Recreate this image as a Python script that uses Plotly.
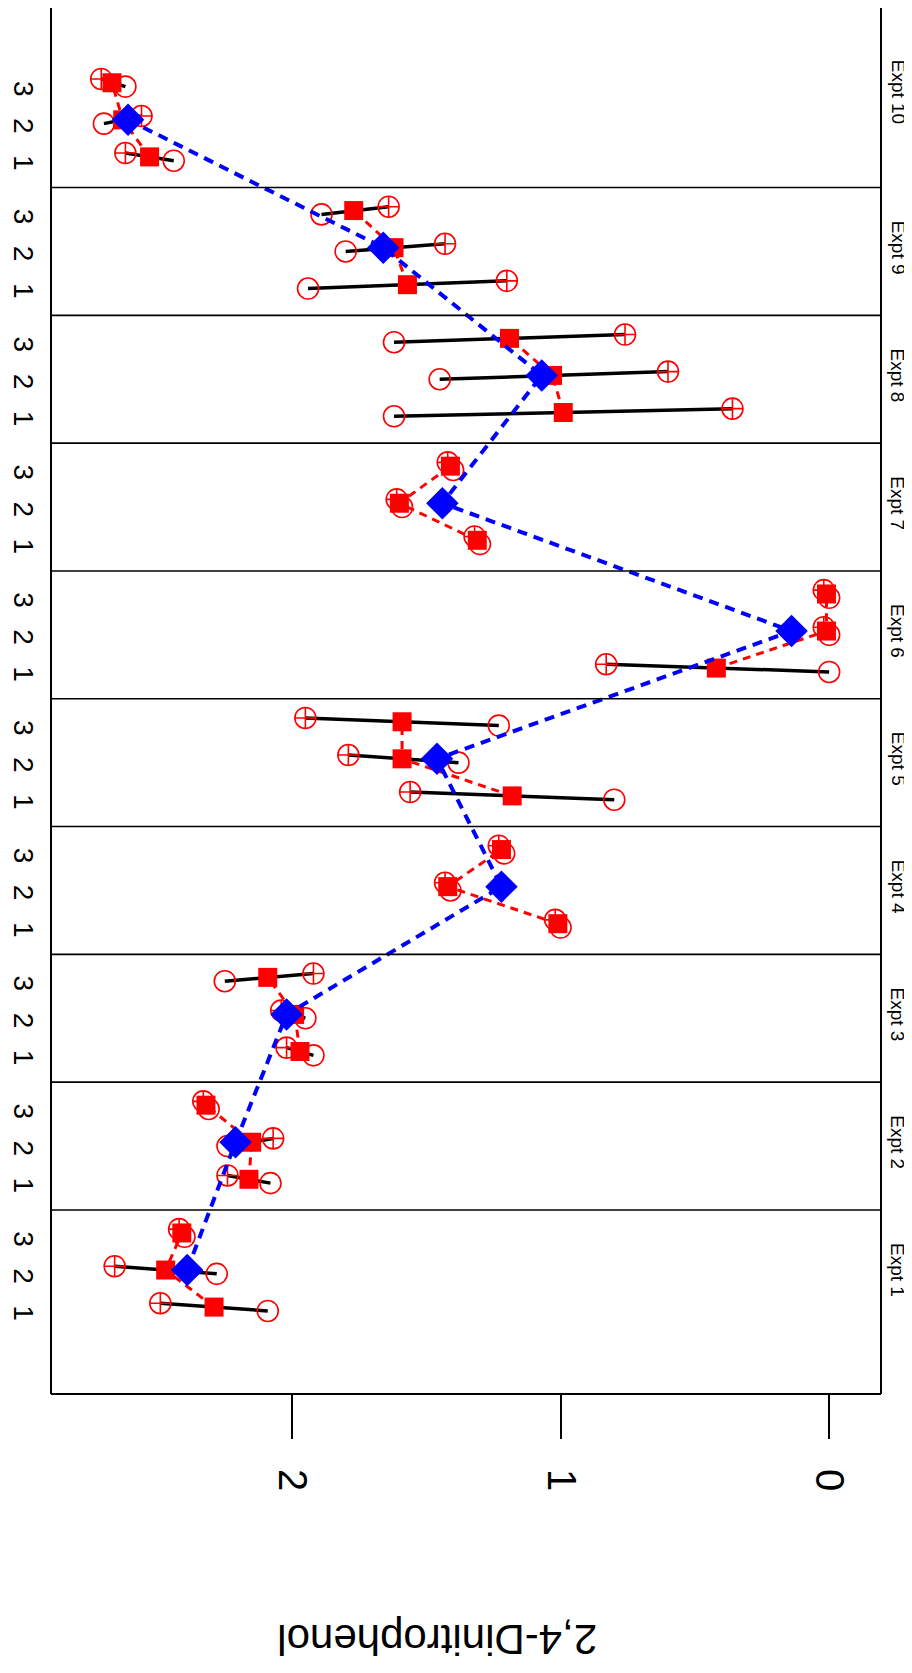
import plotly.graph_objects as go

# ---------------- data ----------------
experiments = ["Expt 1", "Expt 2", "Expt 3", "Expt 4", "Expt 5",
               "Expt 6", "Expt 7", "Expt 8", "Expt 9", "Expt 10"]
sub_labels = ["1", "2", "3"]

# open-circle end of each replicate range (sub 1, 2, 3)
circle_vals = [
    [2.09, 2.28, 2.40],
    [2.08, 2.24, 2.31],
    [1.92, 1.95, 2.25],
    [1.00, 1.41, 1.21],
    [0.80, 1.38, 1.23],
    [0.00, 0.00, 0.00],
    [1.30, 1.59, 1.40],
    [1.62, 1.45, 1.62],
    [1.94, 1.80, 1.89],
    [2.44, 2.70, 2.62],
]
# crossed-circle end of each replicate range
plus_vals = [
    [2.49, 2.66, 2.42],
    [2.24, 2.07, 2.33],
    [2.02, 2.04, 1.92],
    [1.02, 1.43, 1.23],
    [1.56, 1.79, 1.95],
    [0.83, 0.02, 0.02],
    [1.32, 1.61, 1.42],
    [0.36, 0.60, 0.76],
    [1.20, 1.43, 1.64],
    [2.62, 2.56, 2.71],
]
# red squares (replicate means)
square_vals = [
    [2.29, 2.47, 2.41],
    [2.16, 2.15, 2.32],
    [1.97, 1.99, 2.09],
    [1.01, 1.42, 1.22],
    [1.18, 1.59, 1.59],
    [0.42, 0.01, 0.01],
    [1.31, 1.60, 1.41],
    [0.99, 1.03, 1.19],
    [1.57, 1.62, 1.77],
    [2.53, 2.63, 2.67],
]
# blue diamonds (experiment means)
diamond_vals = [2.39, 2.21, 2.02, 1.22, 1.46, 0.14, 1.44, 1.07, 1.66, 2.61]

value_ticks = [0, 1, 2]
value_ticktext = ["0", "1", "2"]
value_title = "2,4-Dinitrophenol"

# ---------------- layout helpers (category positions) ----------------
sub_offsets = [-0.29, 0.0, 0.29]
tilt = 0.03
FONT = "Liberation Sans, Arial, sans-serif"
RED = "#FF0000"
BLUE = "#0000FF"

exp_pos = list(range(1, len(experiments) + 1))
exp_label_pos = exp_pos[:-1] + [10.22]

seg_x, seg_y = [], []
circ_x, circ_y = [], []
plus_x, plus_y = [], []
sq_x, sq_y = [], []
rd_x, rd_y = [], []
for i, p in enumerate(exp_pos):
    for s, off in enumerate(sub_offsets):
        y = p + off
        seg_x += [circle_vals[i][s], plus_vals[i][s], None]
        seg_y += [y - tilt, y + tilt, None]
        circ_x.append(circle_vals[i][s]); circ_y.append(y - tilt)
        plus_x.append(plus_vals[i][s]); plus_y.append(y + tilt)
        sq_x.append(square_vals[i][s]); sq_y.append(y)
        rd_x.append(square_vals[i][s]); rd_y.append(y)
    rd_x.append(None); rd_y.append(None)

fig = go.Figure()
fig.add_trace(go.Scatter(x=seg_x, y=seg_y, mode="lines",
                         line=dict(color="black", width=3.5), hoverinfo="skip"))
fig.add_trace(go.Scatter(x=rd_x, y=rd_y, mode="lines",
                         line=dict(color=RED, width=3, dash="8px,6px"), hoverinfo="skip"))
fig.add_trace(go.Scatter(x=circ_x, y=circ_y, mode="markers",
                         marker=dict(symbol="circle-open", size=21, color=RED,
                                     line=dict(width=1.6, color=RED))))
fig.add_trace(go.Scatter(x=plus_x, y=plus_y, mode="markers",
                         marker=dict(symbol="circle-cross-open", size=21, color=RED,
                                     line=dict(width=1.6, color=RED))))
fig.add_trace(go.Scatter(x=sq_x, y=sq_y, mode="markers",
                         marker=dict(symbol="square", size=19, color=RED, line=dict(width=0))))
fig.add_trace(go.Scatter(x=diamond_vals, y=exp_pos, mode="lines",
                         line=dict(color=BLUE, width=4, dash="10px,7px"), hoverinfo="skip"))
fig.add_trace(go.Scatter(x=diamond_vals, y=exp_pos, mode="markers",
                         marker=dict(symbol="diamond", size=25, color=BLUE, line=dict(width=0))))

# page is offset by the 8px body margin: figure = 904 x 1665
W, H = 904, 1665
ML, MR, MT, MB = 41, 31, 0, 279
yrange = [0.030, 10.875]
xrange = [2.897, -0.193]
plot_w = W - ML - MR
plot_h = H - MT - MB

sub_tickvals, sub_ticktext = [], []
for p in exp_pos:
    for s, off in enumerate(sub_offsets):
        sub_tickvals.append(p + off - 0.08)
        sub_ticktext.append(sub_labels[s])

shapes = []
for p in exp_pos[:-1]:
    shapes.append(dict(type="line", xref="paper", yref="y", x0=0, x1=1,
                       y0=p + 0.47, y1=p + 0.47, line=dict(color="black", width=1.6)))
for (x0, y0, x1, y1) in [(0, 0, 0, 1), (1, 0, 1, 1), (0, 0, 1, 0)]:
    shapes.append(dict(type="line", xref="paper", yref="paper", x0=x0, y0=y0, x1=x1, y1=y1,
                       line=dict(color="black", width=2)))

annotations = []
for lab, p in zip(experiments, exp_label_pos):
    annotations.append(dict(text=lab, xref="paper", yref="y",
                            x=1 + 17 / plot_w, y=p, xanchor="center", yanchor="middle",
                            showarrow=False, textangle=90,
                            font=dict(size=19, family=FONT, color="black")))
annotations.append(dict(text=value_title, xref="paper", yref="paper",
                        x=(428 - ML) / plot_w, y=-(1632 - plot_h) / plot_h,
                        xanchor="center", yanchor="middle", showarrow=False,
                        textangle=180, font=dict(size=42, family=FONT, color="black")))

fig.update_layout(
    width=W, height=H,
    margin=dict(l=ML, r=MR, t=MT, b=MB),
    paper_bgcolor="white", plot_bgcolor="white",
    showlegend=False,
    font=dict(family=FONT, color="black"),
    xaxis=dict(range=xrange, tickvals=value_ticks, ticktext=value_ticktext,
               ticks="outside", ticklen=44, tickwidth=1.6, tickcolor="black",
               tickangle=90, tickfont=dict(size=40, family=FONT),
               ticklabelstandoff=22,
               showgrid=False, zeroline=False, showline=False),
    yaxis=dict(range=yrange, side="left", tickvals=sub_tickvals, ticktext=sub_ticktext,
               tickangle=90, tickfont=dict(size=28, family=FONT), ticks="",
               ticklabelstandoff=8,
               showgrid=False, zeroline=False, showline=False),
    shapes=shapes,
    annotations=annotations,
)

fig.write_html("out.html")
